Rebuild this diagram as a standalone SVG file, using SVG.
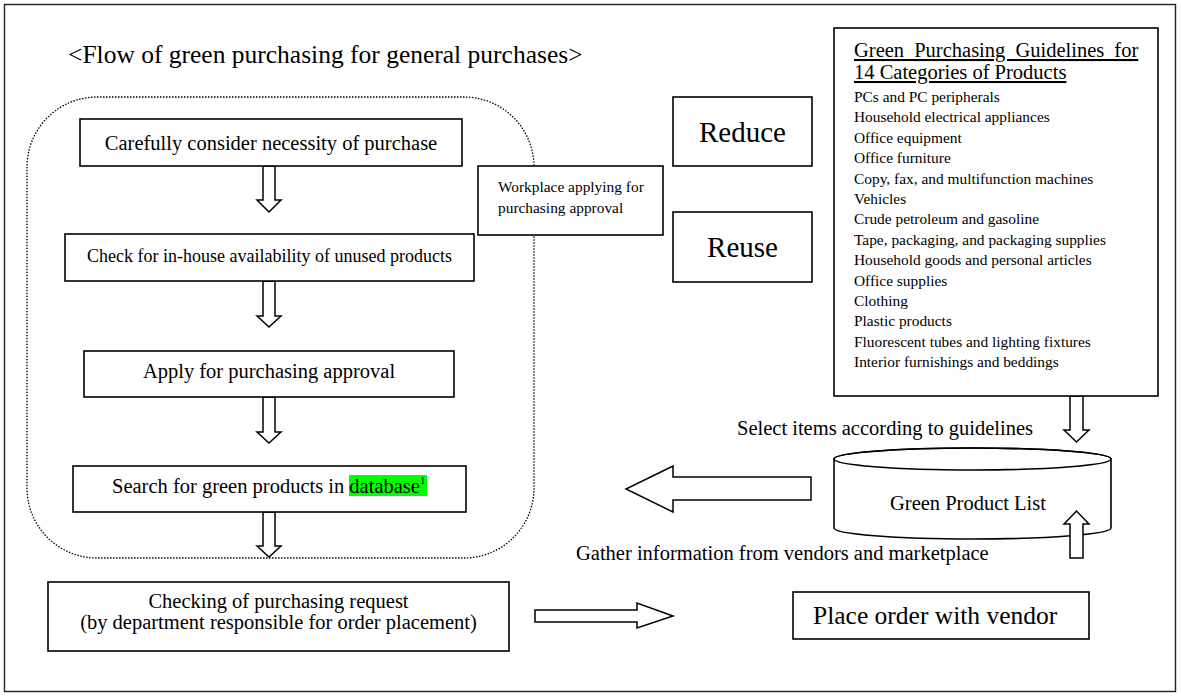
<svg xmlns="http://www.w3.org/2000/svg" width="1181" height="696" viewBox="0 0 1181 696">
<style>
text{font-family:"Liberation Serif","Times New Roman",serif;fill:#000}
.box{fill:#fff;stroke:#000;stroke-width:1.6}
.blk{fill:#fff;stroke:#000;stroke-width:1.5;stroke-linejoin:miter}
.t20{font-size:20.5px}
.t18{font-size:18px}
.t15{font-size:15.4px}
.mid{text-anchor:middle}
</style>
<rect x="0" y="0" width="1181" height="696" fill="#fff"/>
<rect x="4.5" y="4.5" width="1171" height="687" fill="none" stroke="#222" stroke-width="1.4"/>
<text x="68" y="63" style="font-size:25.5px">&lt;Flow of green purchasing for general purchases&gt;</text>
<rect id="scope" x="27" y="97" width="507" height="461" rx="70" ry="70" fill="none" stroke="#000" stroke-width="1.3" stroke-dasharray="1.5,1.5"/>
<g id="connectors">
<polygon class="blk" points="263,166 275,166 275,200 281,200 269,212 257,200 263,200"/>
<polygon class="blk" points="263,281 275,281 275,316 281,316 269,327 257,316 263,316"/>
<polygon class="blk" points="263,397 275,397 275,432 281,432 269,443 257,432 263,432"/>
<polygon class="blk" points="263,512 275,512 275,546 281,546 269,557 257,546 263,546"/>
<polygon class="blk" points="535,610 637,610 637,603 673,616 637,628 637,622 535,622"/>
<polygon class="blk" points="811,477 673,477 673,466 626,489 673,512 673,500 811,500"/>
<polygon class="blk" points="1070,396 1083,396 1083,430 1089,430 1076.5,442 1064,430 1070,430"/>
</g>
<g id="n1"><rect class="box" x="80" y="119" width="382" height="47"/><text class="t20 mid" x="271" y="150">Carefully consider necessity of purchase</text></g>
<g id="n2"><rect class="box" x="65" y="234" width="409" height="47"/><text class="t18 mid" x="269.5" y="262">Check for in-house availability of unused products</text></g>
<g id="n3"><rect class="box" x="84" y="351" width="370" height="46"/><text class="t20 mid" x="269" y="378">Apply for purchasing approval</text></g>
<g id="n4"><rect class="box" x="73" y="466" width="393" height="46"/><rect x="349" y="475" width="78" height="21" fill="#00ff00"/><text class="t20" x="112" y="493">Search for green products in database<tspan style="font-size:11px" dy="-9">1</tspan></text></g>
<g id="n5"><rect class="box" x="48" y="582" width="461" height="69"/><text class="t20 mid" x="278.5" y="608">Checking of purchasing request</text><text class="t20 mid" x="278.5" y="629">(by department responsible for order placement)</text></g>
<g id="workplace"><rect class="box" x="478" y="166" width="185" height="69"/><text class="t15" x="498" y="192">Workplace applying for</text><text class="t15" x="498" y="213">purchasing approval</text></g>
<g id="reduce"><rect class="box" x="673" y="97" width="139" height="69"/><text class="mid" style="font-size:29px" x="742.5" y="142">Reduce</text></g>
<g id="reuse"><rect class="box" x="673" y="212" width="139" height="70"/><text class="mid" style="font-size:29px" x="742.5" y="257">Reuse</text></g>
<g id="guidelines"><rect class="box" x="834" y="28" width="324" height="368"/>
<text class="t20" x="854" y="57" style="text-decoration:underline;word-spacing:5px">Green Purchasing Guidelines for</text>
<text class="t20" x="854" y="79" style="text-decoration:underline">14 Categories of Products</text>
<text class="t15" x="854" y="102">PCs and PC peripherals</text>
<text class="t15" x="854" y="122.4">Household electrical appliances</text>
<text class="t15" x="854" y="142.8">Office equipment</text>
<text class="t15" x="854" y="163.2">Office furniture</text>
<text class="t15" x="854" y="183.6">Copy, fax, and multifunction machines</text>
<text class="t15" x="854" y="204">Vehicles</text>
<text class="t15" x="854" y="224.4">Crude petroleum and gasoline</text>
<text class="t15" x="854" y="244.8">Tape, packaging, and packaging supplies</text>
<text class="t15" x="854" y="265.2">Household goods and personal articles</text>
<text class="t15" x="854" y="285.6">Office supplies</text>
<text class="t15" x="854" y="306">Clothing</text>
<text class="t15" x="854" y="326.4">Plastic products</text>
<text class="t15" x="854" y="346.8">Fluorescent tubes and lighting fixtures</text>
<text class="t15" x="854" y="367.2">Interior furnishings and beddings</text>
</g>
<text class="t20" x="737" y="435">Select items according to guidelines</text>
<g id="gpl"><path class="box" d="M834,459 L834,528 A138.5,11 0 0 0 1111,528 L1111,459 A138.5,11 0 0 0 834,459 Z"/><ellipse cx="972.5" cy="459" rx="138.5" ry="11" fill="none" stroke="#000" stroke-width="1.6"/><text class="t20 mid" x="968" y="510">Green Product List</text></g>
<polygon class="blk" points="1070,558 1083,558 1083,524 1089,524 1076.5,511 1064,524 1070,524"/>
<text class="t20" x="576" y="560">Gather information from vendors and marketplace</text>
<g id="order"><rect class="box" x="793" y="592" width="296" height="47"/><text style="font-size:25.5px" x="813" y="624">Place order with vendor</text></g>
</svg>
